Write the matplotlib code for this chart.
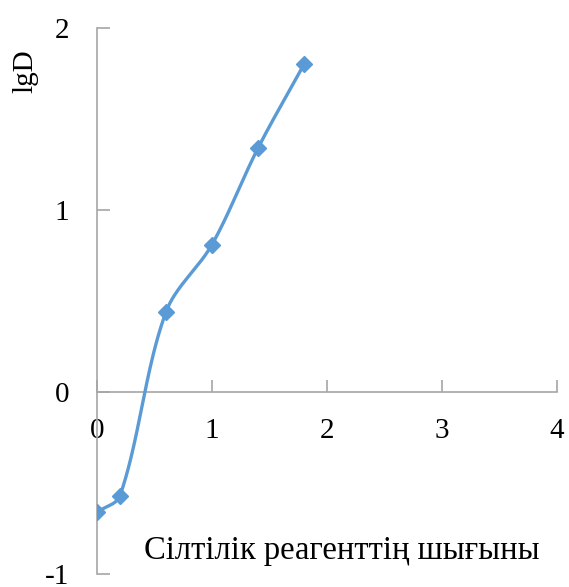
import numpy as np
import matplotlib
matplotlib.use("Agg")
import matplotlib.pyplot as plt

# reagent consumption vs lgD
x_vals = [0.0, 0.2, 0.6, 1.0, 1.4, 1.8]
lgd_vals = [-0.66, -0.57, 0.44, 0.81, 1.34, 1.80]
x_ticks = [0, 1, 2, 3, 4]
y_ticks = [-1, 0, 1, 2]
x_label = "Сілтілік реагенттің шығыны"
y_label = "lgD"

LINE_COLOR = "#5B9BD5"
AXIS_COLOR = "#A6A6A6"
FONT = "Liberation Serif"
plt.rcParams["axes.unicode_minus"] = False


def smooth_curve(xs, ys, sx=1.0, sy=1.0, n=40):
    """Bezier smoothing through every point; control arms scale with the
    neighbouring segment lengths (measured in screen units sx, sy)."""
    p = np.column_stack([np.asarray(xs) * sx, np.asarray(ys) * sy]).astype(float)
    out = []
    for i in range(len(p) - 1):
        p0 = p[max(i - 1, 0)]
        p1, p2 = p[i], p[i + 1]
        p3 = p[min(i + 2, len(p) - 1)]
        d01 = np.linalg.norm(p1 - p0)
        d12 = np.linalg.norm(p2 - p1)
        d23 = np.linalg.norm(p3 - p2)
        c1 = p1 + (p2 - p0) * d12 / (d01 + d12) / 3.0
        c2 = p2 - (p3 - p1) * d12 / (d12 + d23) / 3.0
        t = np.linspace(0, 1, n)[:, None]
        seg = ((1 - t) ** 3 * p1 + 3 * (1 - t) ** 2 * t * c1
               + 3 * (1 - t) * t ** 2 * c2 + t ** 3 * p2)
        out.append(seg if i == 0 else seg[1:])
    curve = np.vstack(out)
    return curve[:, 0] / sx, curve[:, 1] / sy


fig = plt.figure(figsize=(5.69, 5.87), dpi=100)
ax = fig.add_axes([97 / 569, 1 - 574 / 587, 460 / 569, 546 / 587])

cx, cy = smooth_curve(x_vals, lgd_vals, sx=115, sy=182)
ax.plot(cx, cy, color=LINE_COLOR, lw=2.4, solid_capstyle="round", zorder=3)
ax.plot(x_vals, lgd_vals, ls="none", marker="D", ms=8.5, color=LINE_COLOR, zorder=4)

ax.set_xlim(0, 4)
ax.set_ylim(-1, 2)
ax.set_xticks(x_ticks)
ax.set_yticks(y_ticks)

for side in ("top", "right"):
    ax.spines[side].set_visible(False)
ax.spines["bottom"].set_position(("data", 0))
for side in ("left", "bottom"):
    ax.spines[side].set_color(AXIS_COLOR)
    ax.spines[side].set_linewidth(1.2)

ax.tick_params(axis="both", direction="in", length=9, width=1.2, color=AXIS_COLOR,
               labelsize=21, labelcolor="black")
ax.tick_params(axis="x", pad=19)
ax.tick_params(axis="y", pad=20)
for lab in ax.get_xticklabels() + ax.get_yticklabels():
    lab.set_fontfamily(FONT)

fig.text(342 / 569, 1 - 551 / 587, x_label, ha="center", va="center",
         fontsize=23.5, family=FONT)
fig.text(25 / 569, 1 - 71 / 587, y_label, ha="center", va="center",
         rotation=90, fontsize=21, family=FONT)

fig.savefig("out.png", dpi=100)
